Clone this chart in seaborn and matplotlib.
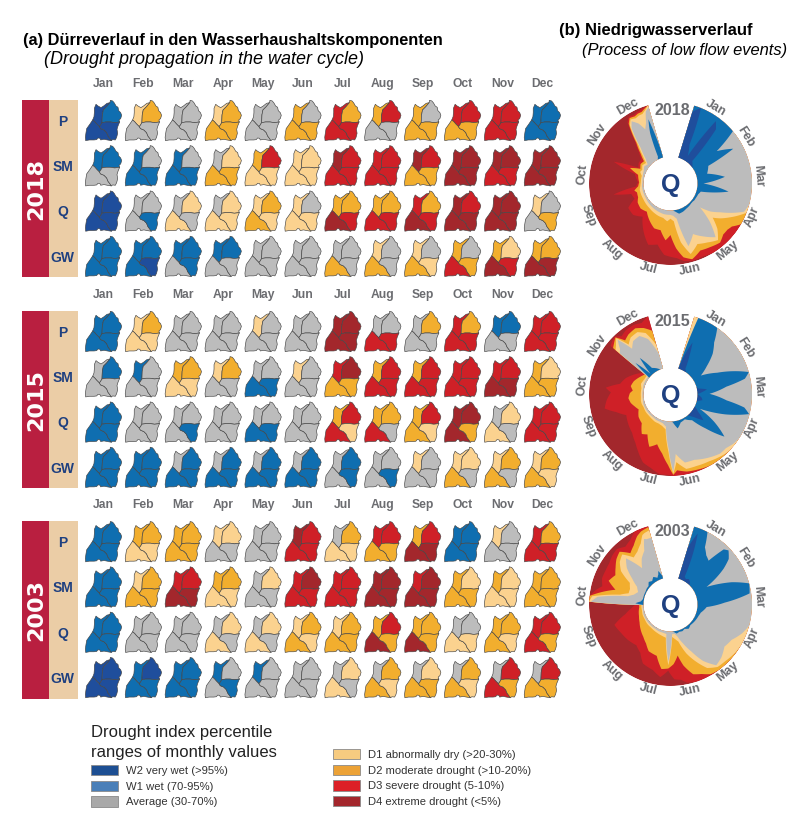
import numpy as np
import matplotlib
matplotlib.use("Agg")
import matplotlib.pyplot as plt
from matplotlib.collections import PolyCollection
from matplotlib.patches import Rectangle, Patch, PathPatch
from matplotlib.path import Path
import seaborn as sns

W, H, DPI = 797, 824, 100
MONTHS = ["Jan","Feb","Mar","Apr","May","Jun","Jul","Aug","Sep","Oct","Nov","Dec"]
ROWS = ["P","SM","Q","GW"]
YEARS = ["2018","2015","2003"]
CLASS_LABELS = ["W2 very wet (>95%)","W1 wet (70-95%)","Average (30-70%)",
                "D1 abnormally dry (>20-30%)","D2 moderate drought (>10-20%)",
                "D3 severe drought (5-10%)","D4 extreme drought (<5%)"]
CLASS_COLORS = ["#1f4e9c","#0f6eb0","#bcbcbc","#fbd28f","#f2ae2e","#cf2027","#a3272c"]
LEGEND_COLORS = ["#1d4f93","#4a7fb8","#a9a9a9","#f7cb80","#eca236","#dc2027","#a3262c"]

# monthly class per region, digits = class index for regions A(NW strip) B(NE) C(SW) D(SE)
P_2018  = ["0100","3422","2222","3444","2222","4244","5455","4522","4244","5544","5555","1111"]
SM_2018 = ["1122","1211","1211","2344","4533","3333","6555","5555","6544","6666","6655","6666"]
Q_2018  = ["0000","2221","2332","2333","3443","3233","4465","4455","5465","6566","6666","3224"]
GW_2018 = ["1111","1110","1121","1122","2222","2222","2242","3242","3243","4254","4365","4466"]
P_2015  = ["1111","3433","2222","2222","3222","2222","6666","2255","2422","5455","1122","5555"]
SM_2015 = ["2122","1222","4433","3422","2211","3222","5644","4555","4555","5555","5566","4344"]
Q_2015  = ["1111","2222","2221","2222","2211","2222","4553","4452","4543","6664","2332","5555"]
GW_2015 = ["1111","1111","2111","2111","2111","2111","2121","2221","3222","3342","3442","3443"]
P_2003  = ["1111","4433","4444","3322","2222","6555","2433","5544","4566","1111","3222","5455"]
SM_2003 = ["1111","3444","5566","4433","2322","5655","5555","6666","5666","4344","4333","4444"]
Q_2003  = ["1111","2222","2222","2332","2332","3443","3444","4564","4464","2233","4443","5554"]
GW_2003 = ["0000","1011","1111","1221","1222","2222","2332","2443","2344","2443","2554","2544"]

# radial charts: (angle deg clockwise from north, upper limit in % of W2, W1, Average, D1, D2, D3)
Q2018 = [(17,88,100,100,100,100,100),(22,100,100,100,100,100,100),(26,30,100,100,100,100,100),
 (32,10,100,100,100,100,100),(36,92,100,100,100,100,100),(40,80,100,100,100,100,100),
 (44,8,100,100,100,100,100),(50,3,100,100,100,100,100),(55,0,54,100,100,100,100),
 (61,0,82,100,100,100,100),(65,0,27,100,100,100,100),(75,0,20,100,100,100,100),
 (83,0,51,100,100,100,100),(90,0,11,100,100,100,100),(98,0,58,100,100,100,100),
 (105,0,8,100,100,100,100),(111,0,5,95,100,100,100),(120,0,4,56,75,100,100),
 (125,0,4,40,62,88,100),(129,0,3,20,50,85,100),(134,0,3,50,70,85,100),(140,0,4,79,86,92,100),
 (148,0,5,65,78,88,100),(156,0,7,52,72,85,97),(164,0,8,70,85,95,98),(170,0,3,16,60,88,95),
 (175,0,0,10,20,70,88),(180,0,0,8,15,45,85),(185,0,0,8,20,55,82),(192,0,0,8,15,38,65),
 (200,0,0,7,14,38,70),(210,0,0,6,12,28,50),(220,0,0,5,10,18,30),(230,0,0,4,9,22,40),
 (240,0,0,3,8,20,40),(247,0,0,3,8,15,22),(255,0,0,3,8,14,25),(259,0,0,3,8,18,57),
 (265,0,0,3,6,10,14),(272,0,0,2,5,8,10),(285,0,0,3,5,12,18),(291,0,0,4,10,30,62),
 (296,0,0,5,8,12,16),(303,0,0,8,12,16,20),(310,0,0,5,9,14,20),(315,0,0,15,22,28,33),
 (320,0,0,35,42,48,52),(325,0,0,75,80,84,88),(328,0,0,85,89,92,95),(332,0,0,75,86,90,93),
 (335,0,5,60,88,92,95),(338,0,50,70,88,92,96),(341,0,75,90,93,96,98),(344,0,15,96,100,100,100)]

Q2015 = [(17,0,3,6,100,100,100),(20,30,100,100,100,100,100),(23,54,100,100,100,100,100),
 (26,30,100,100,100,100,100),(30,5,100,100,100,100,100),(35,0,100,100,100,100,100),
 (40,0,75,100,100,100,100),(46,0,58,100,100,100,100),(52,0,35,100,100,100,100),
 (58,0,16,100,100,100,100),(65,0,45,100,100,100,100),(74,0,100,100,100,100,100),
 (78,3,90,100,100,100,100),(82,18,54,100,100,100,100),(89,0,22,100,100,100,100),
 (96,8,54,100,100,100,100),(100,10,88,100,100,100,100),(104,0,99,100,100,100,100),
 (110,0,57,100,100,100,100),(116,0,10,100,100,100,100),(122,10,45,100,100,100,100),
 (128,27,76,97,100,100,100),(134,10,40,92,100,100,100),(140,0,12,92,97,100,100),
 (150,0,3,85,92,100,100),(160,0,5,78,90,97,100),(168,0,14,78,90,95,100),(175,0,2,60,75,90,100),
 (178,0,0,92,96,98,100),(182,0,0,50,56,80,98),(188,0,0,10,15,60,98),(195,0,0,5,10,45,90),
 (202,0,0,4,8,54,85),(210,0,0,4,8,35,70),(216,0,0,3,7,40,60),(225,0,0,3,6,25,50),
 (235,0,0,3,6,22,45),(245,0,0,3,5,15,40),(252,0,0,3,6,20,55),(258,0,0,2,6,25,74),
 (265,0,0,2,5,28,68),(272,0,0,2,5,25,60),(276,0,0,2,5,20,70),(282,0,0,2,5,25,45),
 (290,0,0,3,8,22,38),(300,0,0,3,6,15,25),(308,0,0,3,6,10,15),(309,0,5,70,80,86,92),
 (312,0,37,75,85,90,95),(316,0,3,90,94,96,98),(320,0,38,60,70,80,90),(325,0,10,70,78,85,94),
 (332,0,5,72,80,88,95),(338,0,0,60,72,82,92),(344,0,0,28,45,72,100)]

Q2003 = [(17,60,100,100,100,100,100),(21,90,100,100,100,100,100),(24,50,100,100,100,100,100),
 (27,8,100,100,100,100,100),(31,5,73,100,100,100,100),(36,8,62,100,100,100,100),
 (41,5,57,100,100,100,100),(44,0,91,100,100,100,100),(47,0,96,100,100,100,100),
 (52,0,86,100,100,100,100),(56,0,68,100,100,100,100),(64,0,24,100,100,100,100),
 (70,0,70,100,100,100,100),(75,0,100,100,100,100,100),(82,0,97,100,100,100,100),
 (88,0,50,100,100,100,100),(94,0,17,100,100,100,100),(105,0,8,100,100,100,100),
 (112,0,6,92,100,100,100),(120,0,5,80,100,100,100),(128,0,4,76,98,100,100),
 (136,0,3,85,95,100,100),(143,0,6,90,94,100,100),(150,0,2,70,85,98,100),(156,0,4,45,65,90,100),
 (162,0,3,26,45,85,100),(168,0,5,10,20,65,97),(172,0,2,5,15,45,90),(177,0,0,5,10,60,88),
 (182,0,0,55,62,68,72),(188,0,0,5,12,70,85),(195,0,0,4,10,48,75),(205,0,0,4,8,45,70),
 (212,0,0,3,7,35,55),(220,0,0,3,6,28,48),(230,0,0,3,6,22,52),(240,0,0,3,5,16,55),
 (250,0,0,3,5,12,60),(258,0,0,2,4,10,35),(265,0,0,2,4,8,22),(269,0,0,2,4,8,16),
 (272,0,15,97,100,100,100),(276,0,5,85,95,100,100),(281,0,2,30,45,75,90),(285,0,2,20,30,55,80),
 (291,0,2,14,30,72,85),(298,0,2,20,35,65,85),(304,0,3,35,60,72,86),(310,0,3,55,72,80,90),
 (316,0,8,68,78,85,92),(322,0,5,35,60,70,85),(328,0,10,50,65,78,90),(334,0,5,60,75,90,100),
 (338,0,10,80,88,95,100),(340,0,16,78,90,96,100),(344,0,5,78,92,98,100)]

# region outlines of the small map (template, in a 109 x 122 box)
W_A = [(22,60),(26,50),(27,38),(27,25),(32,13)]
T_A = [(38,18),(47,23),(55,18),(65,10),(74,8)]
AB  = [(74,8),(64,20),(54,30),(51,45),(50,68)]
AD  = [(50,68),(46,75),(42,80)]
AC  = [(42,80),(34,72),(28,65),(22,60)]
B_O = [(74,8),(75,1),(82,3),(87,9),(92,18),(98,22),(100,32),(106,38),(109,46),(106,56),(101,60),(103,66)]
BD  = [(103,66),(88,68),(75,66),(62,66),(50,68)]
D_O = [(103,66),(98,78),(95,88),(97,100),(94,112),(90,120),(82,119),(78,122)]
CD  = [(78,122),(74,116),(68,108),(64,98),(56,90),(46,86),(42,80)]
C_O = [(78,122),(66,120),(56,118),(46,120),(44,115),(38,114),(34,119),(26,120),(12,120),(1,122),
       (0,112),(2,98),(4,86),(14,72),(22,60)]
REG_A = W_A + T_A + AB[1:] + AD[1:] + AC[1:-1]
REG_B = B_O + BD[1:] + AB[::-1][1:-1]
REG_C = C_O + AC[::-1][1:] + CD[::-1][1:-1]
REG_D = D_O + CD[1:] + AD[::-1][1:] + BD[::-1][1:-1]
REGIONS = [REG_A, REG_B, REG_C, REG_D]

ROW_PX = {"2018":120.3, "2015":331.3, "2003":541.5}
POLAR_PX = {"2018":(670.5,183.5), "2015":(670.5,394.5), "2003":(670.5,604.5)}
TABLES = {"2018":[P_2018,SM_2018,Q_2018,GW_2018],
          "2015":[P_2015,SM_2015,Q_2015,GW_2015],
          "2003":[P_2003,SM_2003,Q_2003,GW_2003]}
POLARS = {"2018":Q2018, "2015":Q2015, "2003":Q2003}

sns.set_theme(style="white")
plt.rcParams["font.family"] = ["Liberation Sans", "DejaVu Sans"]
palette = sns.color_palette(CLASS_COLORS)
GREY = "#6b6c70"
NAVY = "#1f4080"

fig = plt.figure(figsize=(W/DPI, H/DPI), dpi=DPI, facecolor="white")

def box(l, t, r, b):
    return [l/W, 1-b/H, (r-l)/W, (b-t)/H]

def rect(l, t, r, b, c):
    fig.add_artist(Rectangle((l/W, 1-b/H), (r-l)/W, (b-t)/H, transform=fig.transFigure,
                             fc=c, ec="none", zorder=-1))

def ftext(x, y, s, **kw):
    fig.text(x/W, 1-y/H, s, **kw)

CELL_W, CELL_H, X0 = 39.9, 45.3, 103.5
for yr in YEARS:
    yc = ROW_PX[yr]
    top = yc - CELL_H/2
    bot = top + 4*CELL_H
    left = X0 - CELL_W/2
    rect(22, top+2, 49, bot-1.5, "#b91f40")
    rect(49, top+2, 77.5, bot-1.5, "#ebcda6")
    ftext(36, (top+bot)/2+0.5, yr, color="white", rotation=90, ha="center", va="center",
          fontsize=16, fontweight="bold", family="DejaVu Sans")
    ax = fig.add_axes(box(left, top, left+12*CELL_W, bot))
    ax.set_facecolor("none")
    verts, fcs = [], []
    for r, row in enumerate(TABLES[yr]):
        for m, code in enumerate(row):
            for k, poly in enumerate(REGIONS):
                pts = np.array(poly, float)
                verts.append(np.c_[m + (pts[:,0]-54.5)/3/CELL_W, r + (pts[:,1]-61)/3/CELL_H])
                fcs.append(palette[int(code[k])])
    ax.add_collection(PolyCollection(verts, facecolors=fcs, edgecolors="#454545", linewidths=0.45))
    ax.set_xlim(-0.5, 11.5)
    ax.set_ylim(3.5, -0.5)
    ax.xaxis.tick_top()
    ax.set_xticks(range(12), MONTHS, fontsize=8.7, fontweight="bold", color=GREY)
    ax.set_yticks(range(4), ROWS, fontsize=10, fontweight="bold", color=NAVY, ha="center")
    ax.tick_params(axis="x", length=0, pad=5.5)
    ax.tick_params(axis="y", length=0, pad=15)
    sns.despine(ax=ax, left=True, bottom=True, top=True, right=True)

    # radial low-flow chart
    cx, cy = POLAR_PX[yr]
    R = 81.5
    pax = fig.add_axes(box(cx-R, cy-R, cx+R, cy+R), projection="polar")
    pax.set_theta_zero_location("N")
    pax.set_theta_direction(-1)
    pax.set_rlim(0, 100)
    pax.set_rorigin(-100*27/(R-27))
    pax.grid(False)
    pax.set_xticks([]); pax.set_yticks([])
    pax.axis("off")
    tbl = np.array(POLARS[yr], float)
    th = np.deg2rad(tbl[:,0])
    # paint outermost class first, every further class over it
    for i in range(6, -1, -1):
        upper = np.full(len(th), 100.0) if i == 6 else tbl[:, i+1]
        v = np.r_[np.c_[th, upper], [[th[-1], 0], [th[0], 0], [th[0], upper[0]]]]
        path = Path(v, _interpolation_steps=12)
        pax.add_patch(PathPatch(path, fc=palette[i], ec="none", lw=0))
    start, step = 30.6, 27.3
    for i, mname in enumerate(MONTHS):
        a = start + i*step
        if a <= 100: rot = -a
        elif a < 270: rot = 180 - a
        else: rot = 360 - a
        pax.text(np.deg2rad(a), 100*(88-27)/(R-27), mname, rotation=rot, rotation_mode="anchor",
                 ha="center", va="center", fontsize=9, fontweight="bold", color=GREY, clip_on=False)
    pax.text(0.5, 0.49, "Q", transform=pax.transAxes, ha="center", va="center",
             fontsize=18, fontweight="bold", color=NAVY)
    ftext(cx+1.5, cy-73, yr, ha="center", va="center", fontsize=11.5, fontweight="bold", color=GREY)

ftext(23, 40, "(a) Dürreverlauf in den Wasserhaushaltskomponenten", fontsize=11.8, fontweight="bold",
      color="black", va="center")
ftext(44, 59, "(Drought propagation in the water cycle)", fontsize=13, style="italic", va="center", color="black")
ftext(559, 30, "(b) Niedrigwasserverlauf", fontsize=12, fontweight="bold", va="center", color="black")
ftext(582, 50, "(Process of low flow events)", fontsize=11.9, style="italic", va="center", color="black")

ftext(91, 733, "Drought index percentile", fontsize=12, va="center", color="#222222")
ftext(91, 752, "ranges of monthly values", fontsize=12, va="center", color="#222222")

handles = [Patch(fc=c, ec="#8a8a8a", lw=0.6) for c in LEGEND_COLORS]
for hs, ls, (lx, ly) in [(handles[:3], CLASS_LABELS[:3], (91, 765)),
                         (handles[3:], CLASS_LABELS[3:], (333, 749))]:
    leg = fig.legend(hs, ls, loc="upper left", bbox_to_anchor=(lx/W, 1-ly/H), frameon=False,
                     fontsize=8.15, handlelength=2.35, handleheight=1.0, handletextpad=0.7,
                     labelspacing=0.42, borderpad=0, borderaxespad=0, labelcolor="#333333")

fig.savefig("out.png", dpi=DPI, facecolor="white")
